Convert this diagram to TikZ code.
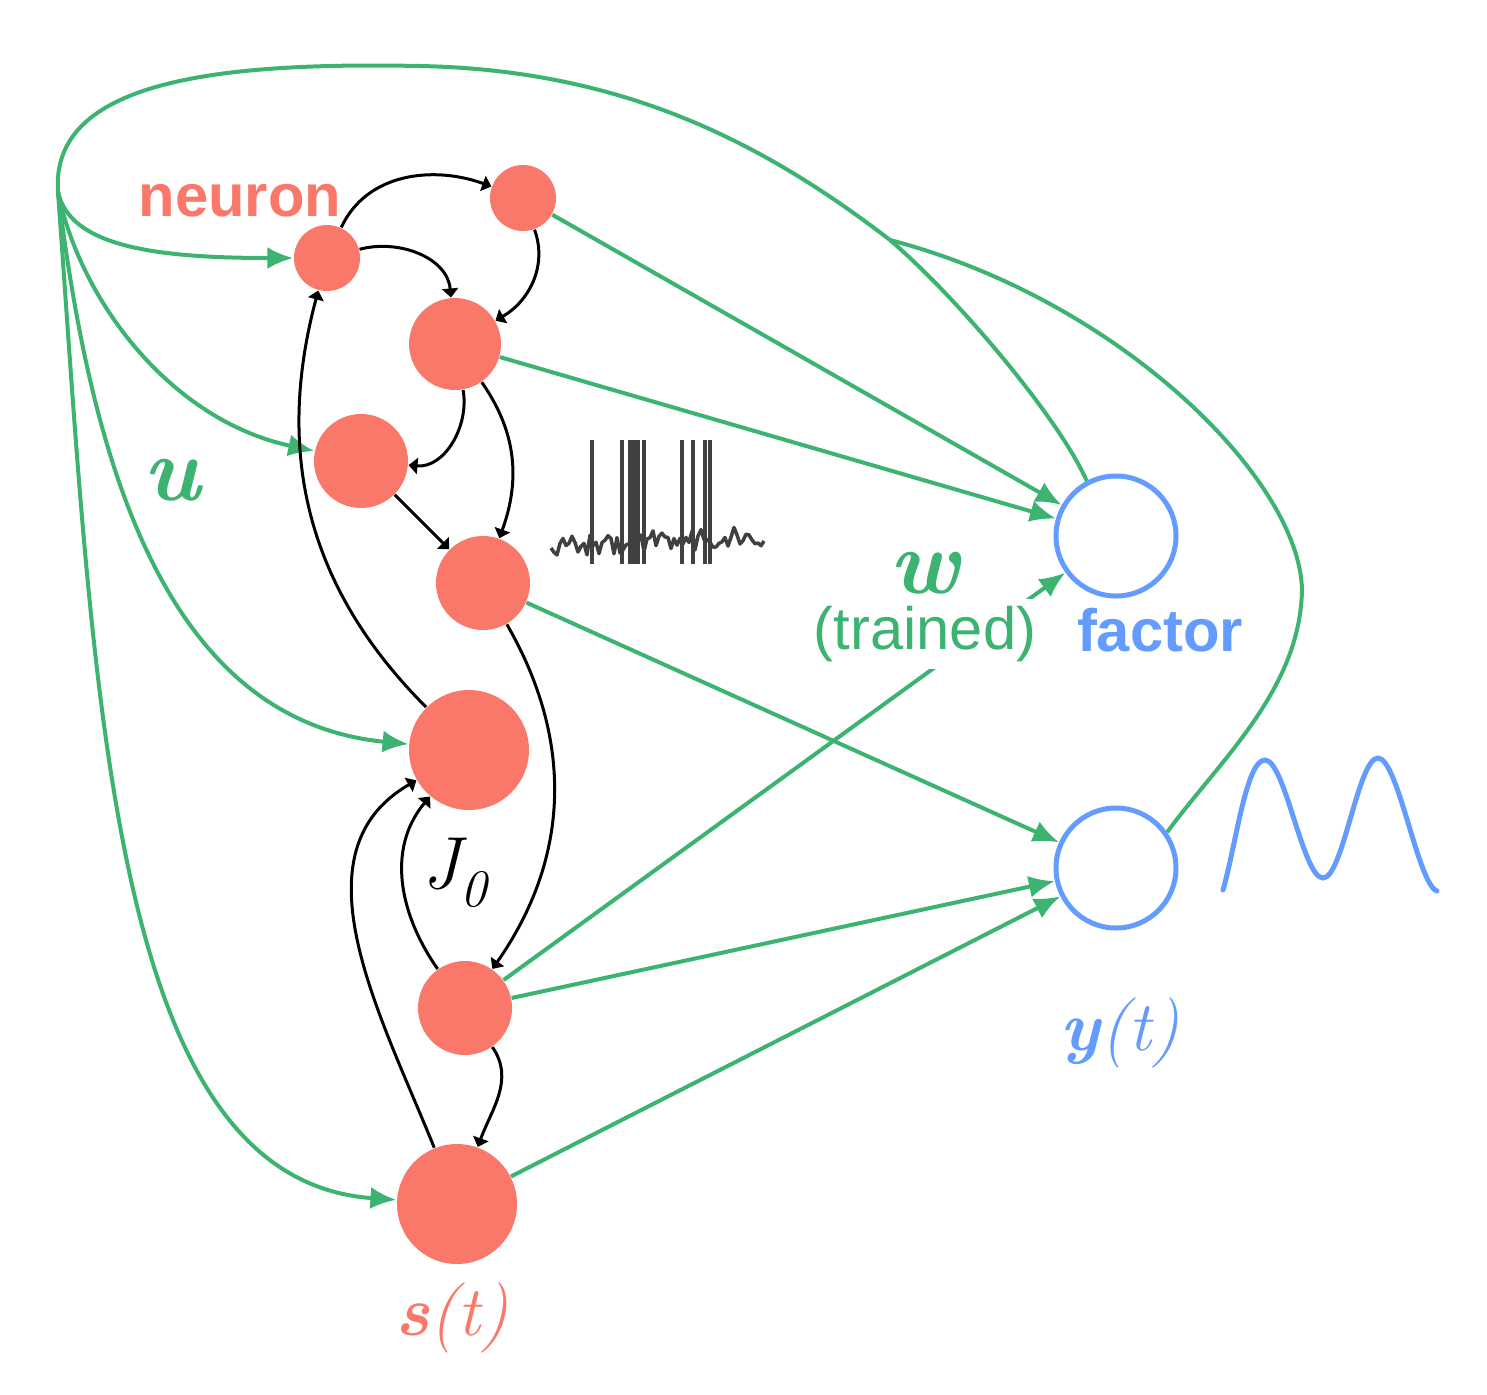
\documentclass[tikz,border=0pt]{standalone}
\usepackage{fontspec}
\usetikzlibrary{arrows.meta}
\newfontfamily\helv{Liberation Sans}
\definecolor{lachs}{RGB}{250,120,106}
\definecolor{gruen}{RGB}{60,179,113}
\definecolor{blau}{RGB}{100,155,255}
\definecolor{spur}{RGB}{64,64,64}

\begin{document}
\begin{tikzpicture}[x=0.1mm, y=-0.1mm,
        >=Latex,   %Voreinstellung für Pfeilspitzen
        neur/.style={circle, fill=lachs, inner sep=0pt, minimum size=#1*0.2mm},
        fak/.style={circle, draw=blau, line width=0.5mm, inner sep=0pt, minimum size=12mm},
        inp/.style={draw=gruen, line width=0.4mm},
        outp/.style={inp, -{Latex[length=2.6mm, width=2.2mm]}},
        syn/.style={draw=black, line width=0.3mm, -{Triangle[length=0.9mm, width=1.6mm]}},
        spk/.style={draw=spur, line width=0.35mm, line join=round},
        sans/.style={font=\helv\fontsize{17}{20}\selectfont},
        sansfett/.style={font=\helv\bfseries\fontsize{17}{20}\selectfont},
        mathe/.style={font=\fontsize{#1}{#1}\selectfont\itshape},
        mathefett/.style={font=\fontsize{#1}{#1}\selectfont\bfseries\itshape}]
        %Bildbereich
        \useasboundingbox (0,0) rectangle (1487,1395);
        %Neuronen
        \node[neur=33] (n1) at (327,258) {};
        \node[neur=33] (n2) at (523,198) {};
        \node[neur=46] (n3) at (455,344) {};
        \node[neur=47] (n4) at (361,461) {};
        \node[neur=47] (n5) at (483,583) {};
        \node[neur=60] (n6) at (469,750) {};
        \node[neur=47] (n7) at (465,1008) {};
        \node[neur=60] (n8) at (457,1204) {};
        %Faktoren
        \node[fak] (f1) at (1116,536) {};
        \node[fak] (f2) at (1116,868) {};
        \coordinate (quelle) at (58,192);
        \coordinate (knoten) at (890,240);
        %Rueckkopplung
        \draw[inp] (f1.118) .. controls (1060,420) and (960,300) .. (knoten);
        \draw[inp] (f2.35) .. controls (1220,760) and (1300,690) .. (1302,590)
              .. controls (1300,480) and (1120,300) .. (knoten);
        \draw[inp] (knoten) .. controls (760,140) and (620,70) .. (420,66)
              .. controls (220,62) and (50,80) .. (quelle);
        %Eingaenge u
        \draw[outp] (quelle) .. controls (70,245) and (150,258) .. (n1);
        \draw[outp] (quelle) .. controls (80,300) and (170,420) .. (n4);
        \draw[outp] (quelle) .. controls (90,450) and (160,720) .. (n6);
        \draw[outp] (quelle) .. controls (95,700) and (110,1180) .. (n8);
        %Ausgaenge w
        \foreach \a/\b in {n2/f1, n3/f1, n7/f1, n5/f2, n7/f2, n8/f2}
            \draw[outp] (\a) -- (\b);
        %Verbindungen J0
        \draw[syn] (n1) to[out=65,in=160] (n2);
        \draw[syn] (n1) to[out=15,in=95] (n3);
        \draw[syn] (n2) to[out=-70,in=30] (n3);
        \draw[syn] (n3) to[out=-80,in=-5] (n4);
        \draw[syn] (n3) to[out=-55,in=70] (n5);
        \draw[syn] (n4) -- (n5);
        \draw[syn] (n6) to[out=135,in=-105] (n1);
        \draw[syn] (n5) to[out=-60,in=55] (n7);
        \draw[syn] (n7) to[out=125,in=-130] (n6);
        \draw[syn] (n8) to[out=112,in=-150] (n6);
        \draw[syn] (n7) to[out=-55,in=70] (n8);
        %Spikes
        \pgfmathsetseed{3}
        \draw[spk] (551,548) \foreach \x in {554,557,...,764} { -- (\x,{548-0.06*(\x-551)+rand*11}) };
        \foreach \x in {592,622,630,634,638,644,682,693,705,710}
            \draw[spk] (\x,564) -- (\x,440);
        %Zielsignal
        \draw[blau, line width=0.5mm, line cap=round] (1223,890)
            .. controls (1236,845) and (1246,760) .. (1265,760)
            .. controls (1285,760) and (1303,878) .. (1323,878)
            .. controls (1343,878) and (1358,758) .. (1378,758)
            .. controls (1398,758) and (1418,885) .. (1437,891);
        %Beschriftung
        \node[sansfett, text=lachs] (lneuron) at (240,201) {neuron};
        \node[mathefett=26, text=gruen] (lu) at (172,480) {u};
        \node[mathefett=26, text=gruen] (lw) at (925,573) {w};
        \node[sans, text=gruen, fill=white, inner sep=2pt] (ltrained) at (925,634) {(trained)};
        \node[sansfett, text=blau] (lfactor) at (1160,630) {factor};
        \node[mathe=21] (lj) at (455,873)
            {J\raisebox{-0.25em}{\fontsize{15}{15}\selectfont 0}};
        \node[mathe=20, text=lachs] (ls) at (452,1318) {\textbf{s}(t)};
        \node[mathe=20, text=blau] (ly) at (1120,1033) {\textbf{y}(t)};
    \end{tikzpicture}
\end{document}
